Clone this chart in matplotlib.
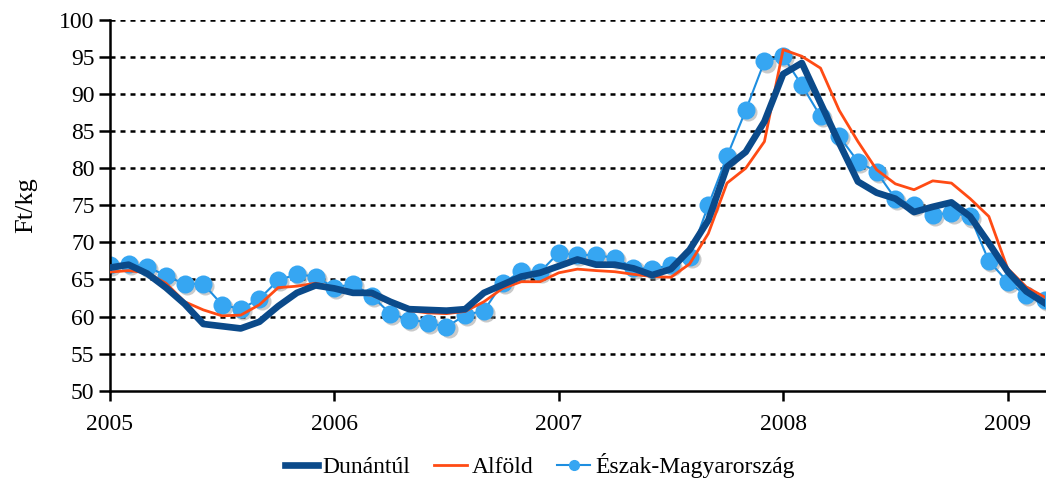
import numpy as np
import matplotlib
matplotlib.use("Agg")
import matplotlib.pyplot as plt
import matplotlib.transforms as mtransforms

# ------------------------------------------------------------------
# DATA (monthly, Jan 2005 - Mar 2009), Ft/kg
# ------------------------------------------------------------------
year_labels = ["2005", "2006", "2007", "2008", "2009"]

dunantul = [66.6, 67.0, 65.8, 63.9, 61.7, 59.0, 58.7, 58.4, 59.3, 61.4, 63.2, 64.2,
            63.8, 63.2, 63.2, 62.0, 61.0, 60.9, 60.8, 61.0, 63.2, 64.3, 65.4, 65.9,
            66.8, 67.7, 67.0, 67.0, 66.5, 65.6, 66.4, 69.0, 73.0, 80.2, 82.2, 86.3,
            92.7, 94.2, 88.8, 83.4, 78.2, 76.7, 75.9, 74.1, 74.8, 75.4, 73.5, 69.9,
            66.1, 63.4, 61.8]

alfold = [66.0, 66.2, 65.9, 64.5, 62.0, 60.9, 60.1, 60.2, 61.6, 63.9, 64.1, 64.5,
          63.9, 63.1, 62.9, 61.8, 60.8, 60.5, 60.4, 60.7, 62.0, 63.8, 64.7, 64.7,
          65.9, 66.4, 66.2, 66.05, 65.7, 65.4, 65.3, 67.1, 71.2, 78.0, 80.0, 83.6,
          96.0, 95.1, 93.5, 87.8, 83.6, 79.8, 77.9, 77.1, 78.3, 78.0, 75.9, 73.5,
          66.5, 64.0, 62.6]

eszak = [67.0, 67.1, 66.75, 65.5, 64.4, 64.4, 61.6, 61.0, 62.4, 64.9, 65.7, 65.4,
         63.9, 64.4, 62.8, 60.4, 59.6, 59.2, 58.6, 60.2, 60.8, 64.5, 66.1, 66.0,
         68.6, 68.3, 68.3, 67.9, 66.6, 66.4, 66.95, 68.0, 75.0, 81.6, 87.8, 94.4,
         95.1, 91.2, 87.0, 84.3, 80.9, 79.5, 75.9, 75.0, 73.7, 74.0, 73.5, 67.5,
         64.7, 62.9, 62.2]

months = np.arange(len(dunantul))

# ------------------------------------------------------------------
# STYLE
# ------------------------------------------------------------------
plt.rcParams["font.family"] = ["Liberation Serif", "DejaVu Serif"]

fig = plt.figure(figsize=(10.46, 4.86), dpi=100)
ax = fig.add_axes([0.105, 0.196, 0.894, 0.763])

# grid lines (dotted black)
for v in range(55, 101, 5):
    ax.axhline(v, color="black", lw=1.8, ls=(0, (2.0, 2.0)), zorder=0)

ESZ_LINE = "#1e8ee0"
ESZ_MARK = "#36a6f2"

# soft shadow under the markers (offset a little right/down)
shadow_tr = ax.transData + mtransforms.ScaledTranslation(1.5 / 72, -1.5 / 72,
                                                         fig.dpi_scale_trans)
ax.plot(months, eszak, ls="none", marker="o", markersize=13,
        markerfacecolor="#8a8a8a", markeredgewidth=0, alpha=0.45,
        transform=shadow_tr, zorder=1.8)

# Észak-Magyarország: thin line + markers
ax.plot(months, eszak, color=ESZ_LINE, lw=1.5, zorder=2)
ax.plot(months, eszak, ls="none", marker="o", markersize=13,
        markerfacecolor=ESZ_MARK, markeredgewidth=0, zorder=2.5)
ax.plot(months, alfold, color="#ff4b14", lw=2.0, zorder=3)
ax.plot(months, dunantul, color="#0b4a8a", lw=4.8, zorder=4)

ax.set_xlim(0, len(dunantul) - 1)
ax.set_ylim(50, 100)
ax.set_yticks(range(50, 101, 5))
ax.set_xticks(range(0, len(dunantul), 12))
ax.set_xticklabels(year_labels)

ax.spines["top"].set_visible(False)
ax.spines["right"].set_visible(False)
ax.spines["left"].set_linewidth(1.8)
ax.spines["bottom"].set_linewidth(1.8)
ax.tick_params(axis="y", direction="out", length=8, width=1.8, labelsize=17, pad=3)
ax.tick_params(axis="x", direction="out", length=7, width=1.8, labelsize=17, pad=10)

ax.set_ylabel("Ft/kg", fontsize=19, labelpad=16)

# legend handles
h_dun, = ax.plot([], [], color="#0b4a8a", lw=4.8)
h_alf, = ax.plot([], [], color="#ff4b14", lw=2.0)
h_esz, = ax.plot([], [], color=ESZ_LINE, lw=1.5, marker="o", markersize=7,
                 markerfacecolor=ESZ_MARK, markeredgecolor=ESZ_MARK)
fig.legend([h_dun, h_alf, h_esz], ["Dunántúl", "Alföld", "Észak-Magyarország"],
           loc="center", bbox_to_anchor=(0.516, 0.042), ncol=3, frameon=False,
           fontsize=17, handlelength=1.4, handletextpad=0.2, columnspacing=1.0)

fig.savefig("out.png", dpi=100)
